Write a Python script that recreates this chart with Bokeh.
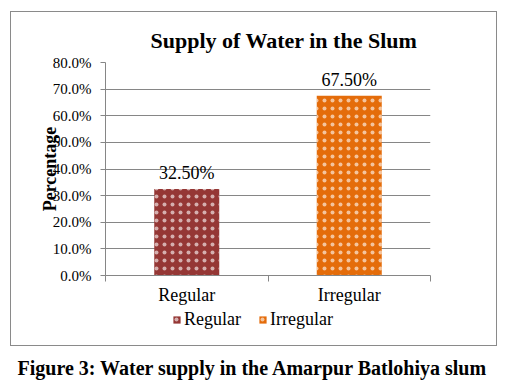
from bokeh.plotting import figure
from bokeh.layouts import column
from bokeh.models import (ColumnDataSource, FixedTicker, PrintfTickFormatter,
                          Legend, LegendItem, InlineStyleSheet)
from bokeh.core.properties import value
from bokeh.embed import file_html
from bokeh.resources import INLINE

categories = ["Regular", "Irregular"]
percentages = [32.5, 67.5]
bar_colors = ["#953735", "#E46C0A"]
y_ticks = [0, 10, 20, 30, 40, 50, 60, 70, 80]
title_text = "Supply of Water in the Slum"
y_label_text = "Percentage"
caption_text = "Figure 3: Water supply in the Amarpur Batlohiya slum"

SERIF = "Liberation Serif"
GRAY = "#868686"

xs = [i + 0.5 for i in range(len(categories))]
source = ColumnDataSource(dict(
    x=xs, top=percentages, cat=categories, color=bar_colors,
    label=[f"{v:.2f}%" for v in percentages],
))
bar_style = dict(width=0.4, fill_color="color", line_color=None, hatch_pattern="dot",
                 hatch_color="white", hatch_scale=8, hatch_weight=0.5, hatch_alpha=0.6)

# ---------------- main chart ----------------
p = figure(frame_width=325, frame_height=213, output_backend="svg", toolbar_location=None,
           x_range=(0, len(categories)), y_range=(0, 80),
           min_border_left=105, min_border_right=77, min_border_top=62, min_border_bottom=33)
p.outline_line_color = None
p.background_fill_color = "white"
p.border_fill_color = "white"

p.title.text = title_text
p.title.text_font = SERIF
p.title.text_font_size = "22px"
p.title.text_font_style = "bold"
p.title.text_color = "black"
p.title.align = "left"
p.title.offset = 45
p.title.standoff = 20

p.vbar(x="x", top="top", source=source, **bar_style)

p.text(x="x", y="top", text="label", source=source, text_align="center",
       text_baseline="bottom", y_offset=-6, text_font=value(SERIF),
       text_font_size="18px", text_color="black")

p.yaxis.ticker = FixedTicker(ticks=y_ticks)
p.yaxis.formatter = PrintfTickFormatter(format="%.1f%%")
p.yaxis.major_label_text_font = SERIF
p.yaxis.major_label_text_font_size = "15px"
p.yaxis.major_label_text_color = "black"
p.yaxis.major_tick_out = 5
p.yaxis.major_tick_in = 0
p.yaxis.minor_tick_line_color = None
p.yaxis.axis_line_color = GRAY
p.yaxis.major_tick_line_color = GRAY
p.yaxis.major_label_standoff = 9
p.yaxis.axis_label = y_label_text
p.yaxis.axis_label_text_font = SERIF
p.yaxis.axis_label_text_font_size = "18px"
p.yaxis.axis_label_text_font_style = "bold"
p.yaxis.axis_label_text_color = "black"
p.yaxis.axis_label_standoff = -10
p.ygrid.grid_line_color = GRAY
p.ygrid.ticker = FixedTicker(ticks=y_ticks)

p.xaxis.ticker = FixedTicker(ticks=xs, minor_ticks=list(range(len(categories) + 1)))
p.xaxis.major_label_overrides = {x: c for x, c in zip(xs, categories)}
p.xaxis.major_label_text_font = SERIF
p.xaxis.major_label_text_font_size = "18px"
p.xaxis.major_label_text_color = "black"
p.xaxis.major_tick_out = 0
p.xaxis.major_tick_in = 0
p.xaxis.minor_tick_out = 6
p.xaxis.minor_tick_in = 0
p.xaxis.minor_tick_line_color = GRAY
p.xaxis.axis_line_color = GRAY
p.xaxis.major_label_standoff = 3
p.xgrid.grid_line_color = None

# ---------------- legend + caption strip ----------------
q = figure(frame_width=507, frame_height=40, output_backend="svg", toolbar_location=None,
           x_range=(0, len(categories)), y_range=(0, 80),
           x_axis_type=None, y_axis_type=None,
           min_border_left=0, min_border_right=0, min_border_top=0, min_border_bottom=0,
           title=caption_text, title_location="below")
q.outline_line_color = None
q.background_fill_color = "white"
q.border_fill_color = "white"
q.grid.visible = False
q.title.text_font = SERIF
q.title.text_font_size = "20px"
q.title.text_font_style = "bold"
q.title.text_color = "black"
q.title.align = "left"
q.title.offset = -88
q.title.standoff = 12

rq = q.vbar(x="x", top="top", source=source, visible=False, **bar_style)
items = [LegendItem(label=c, renderers=[rq], index=i) for i, c in enumerate(categories)]
legend = Legend(items=items, location=(172, 18), orientation="horizontal",
                glyph_width=9, glyph_height=9, label_standoff=3, spacing=17,
                padding=0, margin=0, border_line_color=None, background_fill_alpha=0,
                label_text_font=SERIF, label_text_font_size="18px", label_text_color="black")
q.add_layout(legend, "center")

border_css = InlineStyleSheet(css="""
:host { position: relative; }
:host::after {
  content: ""; position: absolute; left: 10px; top: 11px; width: 487px; height: 335px;
  border: 1px solid #8a8a8a; box-sizing: border-box; pointer-events: none; z-index: 10;
}
""")

layout = column(p, q, spacing=0, stylesheets=[border_css])

open("out.html", "w").write(file_html(layout, INLINE))
